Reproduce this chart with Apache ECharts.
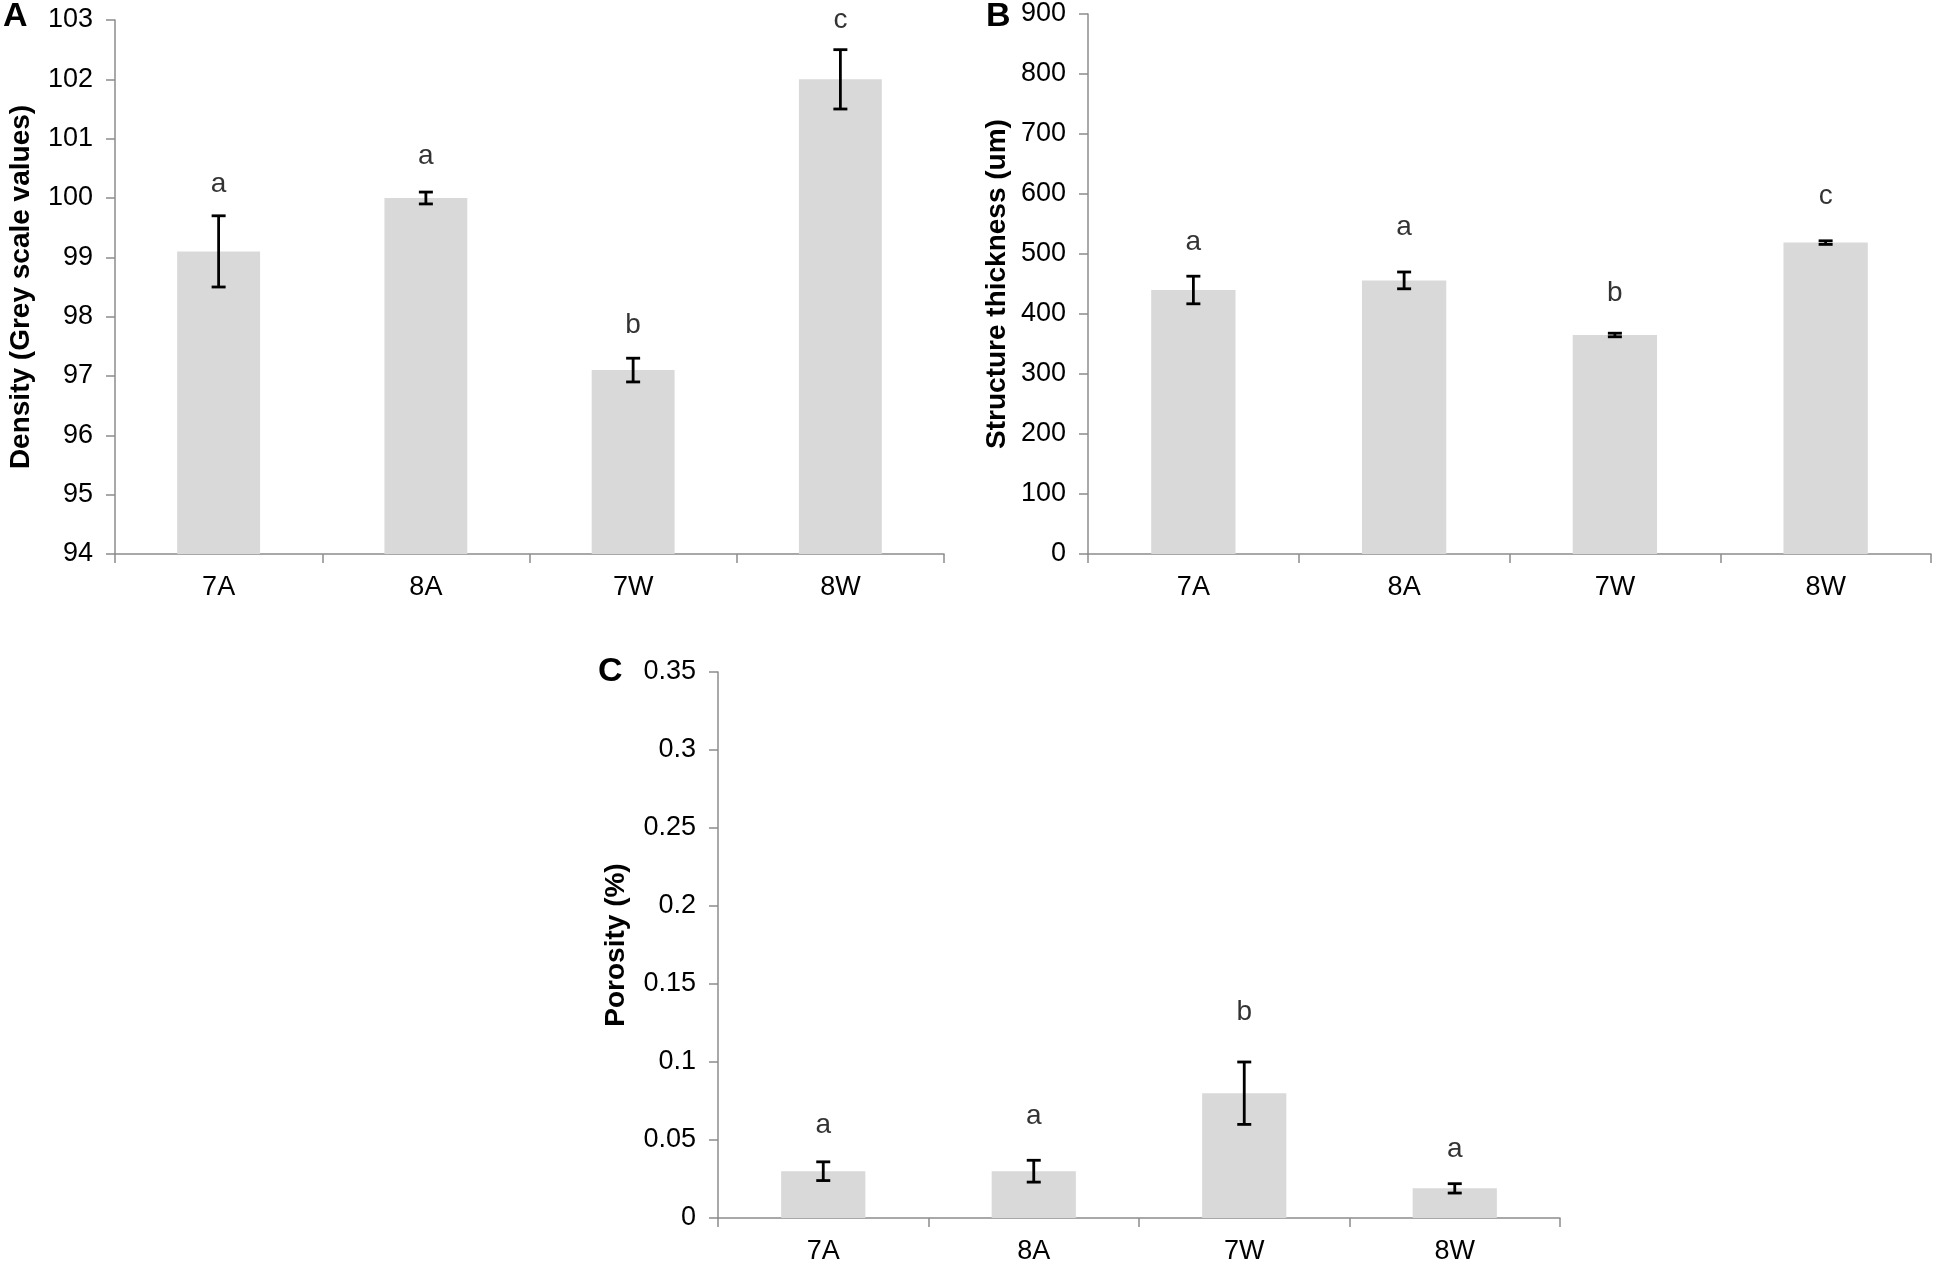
<!DOCTYPE html>
<html>
<head>
<meta charset="utf-8">
<script src="https://cdn.jsdelivr.net/npm/echarts@6/dist/echarts.min.js"></script>
<style>
html,body{margin:0;padding:0;background:#fff;}
#chart{width:1934px;height:1268px;}
</style>
</head>
<body>
<div id="chart"></div>
<script>
const categories = ['7A', '8A', '7W', '8W'];

const densityMean = [99.1, 100.0, 97.1, 102.0];
const densityErr = [0.6, 0.1, 0.2, 0.5];
const densityLetters = ['a', 'a', 'b', 'c'];
const densityLetterY = [100.23, 100.71, 97.85, 103.0];

const thicknessMean = [440, 456, 365, 519];
const thicknessErr = [23, 14, 3, 3];
const thicknessLetters = ['a', 'a', 'b', 'c'];
const thicknessLetterY = [519, 544, 434, 596];

const porosityMean = [0.030, 0.030, 0.080, 0.019];
const porosityErr = [0.006, 0.007, 0.020, 0.003];
const porosityLetters = ['a', 'a', 'b', 'a'];
const porosityLetterY = [0.0595, 0.0650, 0.1316, 0.0441];

const TICK_FONT = "'Liberation Sans',Arial,sans-serif";
const TITLE_FONT = "'Liberation Sans',Arial,sans-serif";
const AXIS_COLOR = '#8c8c8c';
const BAR_COLOR = '#d9d9d9';

const grids = [
  {left: 115, top: 20, width: 829, height: 534},
  {left: 1088, top: 14, width: 843, height: 540},
  {left: 718, top: 672, width: 842, height: 546}
];

function xAxisFor(gi) {
  return {
    type: 'category', gridIndex: gi, data: categories,
    axisLine: {lineStyle: {color: AXIS_COLOR, width: 1.5}},
    axisTick: {show: true, length: 9, interval: 0, lineStyle: {color: AXIS_COLOR, width: 1.5}},
    axisLabel: {fontFamily: TICK_FONT, fontSize: 27, color: '#000', margin: 20},
    splitLine: {show: false}
  };
}
function yAxisFor(gi, min, max, interval, name, nameGap) {
  return {
    type: 'value', gridIndex: gi, min: min, max: max, interval: interval,
    name: name, nameLocation: 'middle', nameGap: nameGap,
    nameTextStyle: {fontFamily: TITLE_FONT, fontWeight: 'bold', fontSize: 28, color: '#000'},
    axisLine: {show: true, lineStyle: {color: AXIS_COLOR, width: 1.5}},
    axisTick: {show: true, length: 9, lineStyle: {color: AXIS_COLOR, width: 1.5}},
    axisLabel: {fontFamily: TICK_FONT, fontSize: 27, color: '#000', margin: 22},
    splitLine: {show: false}
  };
}

function barSeries(gi, values) {
  return {
    type: 'bar', xAxisIndex: gi, yAxisIndex: gi, data: values,
    barWidth: '40%', itemStyle: {color: BAR_COLOR}, silent: true, z: 2
  };
}
function errSeries(gi, means, errs) {
  return {
    type: 'custom', xAxisIndex: gi, yAxisIndex: gi, z: 5, silent: true,
    data: means.map((m, i) => [i, m - errs[i], m + errs[i]]),
    renderItem: function (params, api) {
      const x = api.value(0);
      const pHi = api.coord([x, api.value(2)]);
      const pLo = api.coord([x, api.value(1)]);
      const hw = 7;
      const st = {stroke: '#000', lineWidth: 2.8};
      return {
        type: 'group',
        children: [
          {type: 'line', shape: {x1: pHi[0], y1: pHi[1], x2: pLo[0], y2: pLo[1]}, style: st},
          {type: 'line', shape: {x1: pHi[0] - hw, y1: pHi[1], x2: pHi[0] + hw, y2: pHi[1]}, style: st},
          {type: 'line', shape: {x1: pLo[0] - hw, y1: pLo[1], x2: pLo[0] + hw, y2: pLo[1]}, style: st}
        ]
      };
    }
  };
}
function letterSeries(gi, ys, letters) {
  return {
    type: 'scatter', xAxisIndex: gi, yAxisIndex: gi, z: 6, silent: true,
    symbolSize: 1, itemStyle: {color: 'rgba(0,0,0,0)'},
    data: ys.map((y, i) => [i, y]),
    label: {
      show: true, position: 'inside',
      formatter: p => letters[p.dataIndex],
      fontFamily: TICK_FONT, fontSize: 28, color: '#000'
    }
  };
}

const chart = echarts.init(document.getElementById('chart'));
chart.setOption({
  animation: false,
  backgroundColor: '#fff',
  grid: grids,
  xAxis: [xAxisFor(0), xAxisFor(1), xAxisFor(2)],
  yAxis: [
    yAxisFor(0, 94, 103, 1, 'Density (Grey scale values)', 80),
    yAxisFor(1, 0, 900, 100, 'Structure thickness (um)', 77),
    yAxisFor(2, 0, 0.35, 0.05, 'Porosity (%)', 88)
  ],
  graphic: [
    {type: 'text', left: 3, top: 0, style: {text: 'A', font: "bold 34px 'Liberation Sans', Arial, sans-serif", fill: '#000'}},
    {type: 'text', left: 986, top: 0, style: {text: 'B', font: "bold 34px 'Liberation Sans', Arial, sans-serif", fill: '#000'}},
    {type: 'text', left: 598, top: 655, style: {text: 'C', font: "bold 34px 'Liberation Sans', Arial, sans-serif", fill: '#000'}}
  ],
  series: [
    barSeries(0, densityMean), errSeries(0, densityMean, densityErr), letterSeries(0, densityLetterY, densityLetters),
    barSeries(1, thicknessMean), errSeries(1, thicknessMean, thicknessErr), letterSeries(1, thicknessLetterY, thicknessLetters),
    barSeries(2, porosityMean), errSeries(2, porosityMean, porosityErr), letterSeries(2, porosityLetterY, porosityLetters)
  ]
});
</script>
</body>
</html>
